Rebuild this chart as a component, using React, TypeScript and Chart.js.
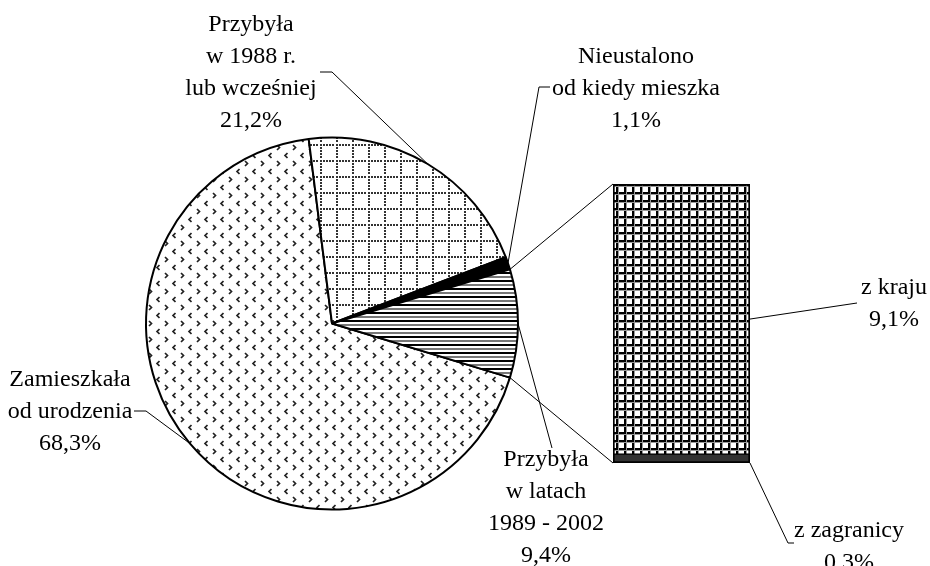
import React, { useEffect, useRef } from "react";
import { Chart, registerables } from "chart.js";

Chart.register(...registerables);

// ---------- data ----------
const pieCategories: string[][] = [
  ["Zamieszkała", "od urodzenia"],
  ["Przybyła", "w 1988 r.", "lub wcześniej"],
  ["Nieustalono", "od kiedy mieszka"],
  ["Przybyła", "w latach", "1989 - 2002"],
];
const pieValues = [68.3, 21.2, 1.1, 9.4];
const pieValueLabels = ["68,3%", "21,2%", "1,1%", "9,4%"];

const barCategories: string[][] = [["z kraju"], ["z zagranicy"]];
const barValues = [9.1, 0.3];
const barValueLabels = ["9,1%", "0.3%"];

const SPLIT_INDEX = 3; // pie slice that is broken down in the bar

// ---------- layout ----------
const W = 930;
const H = 566;
const FONT = '24px "Liberation Serif", "Times New Roman", serif';
const LINE_H = 32;
const PIE_RADIUS = 186;
const PIE_PADDING = { left: 146, right: 412, top: 137.5, bottom: 56.5 };
const BAR_PADDING = { left: 613, right: 180, top: 184, bottom: 103 };

const pieLabelLayout = [
  { x: 70, y: 386, leader: [[134, 411], [146, 411]] },
  { x: 251, y: 31, leader: [[320, 72], [332, 72]] },
  { x: 636, y: 63, leader: [[550, 87], [539, 87]] },
  { x: 546, y: 466, leader: [[552, 448]] },
];
const barLabelLayout = [
  { x: 894, y: 294, leader: [[857, 303]] },
  { x: 849, y: 537, leader: [[794, 543], [788, 543]] },
];

function makePattern(w: number, h: number, draw: (g: CanvasRenderingContext2D) => void) {
  const c = document.createElement("canvas");
  c.width = w;
  c.height = h;
  const g = c.getContext("2d")!;
  g.fillStyle = "#fff";
  g.fillRect(0, 0, w, h);
  draw(g);
  return g.createPattern(c, "repeat")!;
}

export default function App() {
  const pieRef = useRef<HTMLCanvasElement>(null);
  const barRef = useRef<HTMLCanvasElement>(null);

  useEffect(() => {
    const pieCanvas = pieRef.current!;
    const barCanvas = barRef.current!;

    const patChevrons = makePattern(16, 16, (g) => {
      g.strokeStyle = "#222";
      g.lineWidth = 1.7;
      g.beginPath();
      g.moveTo(5, 1);
      g.lineTo(7.5, 3.5);
      g.lineTo(5, 6);
      g.stroke();
      g.beginPath();
      g.moveTo(15.5, 9);
      g.lineTo(13, 11.5);
      g.lineTo(15.5, 14);
      g.stroke();
    });
    const patDotGrid = makePattern(16, 16, (g) => {
      g.fillStyle = "#333";
      for (let i = 0; i < 15; i += 3) {
        g.fillRect(i, 0, 2, 2);
        g.fillRect(0, i, 2, 2);
      }
    });
    const patHLines = makePattern(8, 8, (g) => {
      g.fillStyle = "#000";
      g.fillRect(0, 0, 8, 2);
      g.fillStyle = "#777";
      g.fillRect(0, 4, 8, 2);
    });
    const patBarGrid = makePattern(8, 8, (g) => {
      g.fillStyle = "#000";
      g.fillRect(0, 0, 8, 2);
      g.fillRect(0, 0, 2, 8);
      g.fillStyle = "#999";
      g.fillRect(0, 2, 8, 1);
      g.fillRect(2, 0, 1, 8);
    });

    const total = pieValues.reduce((a, b) => a + b, 0);
    const before = pieValues.slice(0, SPLIT_INDEX).reduce((a, b) => a + b, 0);
    const splitDeg = (pieValues[SPLIT_INDEX] / total) * 360;
    const startDeg = -splitDeg / 2 - (before / total) * 360;
    const rotation = (((startDeg + 90) % 360) + 360) % 360;

    const pie = new Chart(pieCanvas, {
      type: "pie",
      data: {
        labels: pieCategories.map((l) => l.join(" ")),
        datasets: [
          {
            data: pieValues,
            backgroundColor: [patChevrons, patDotGrid, "#000", patHLines] as any,
            borderColor: "#000",
            borderWidth: 2,
            hoverOffset: 0,
            radius: PIE_RADIUS,
            rotation,
          } as any,
        ],
      },
      options: {
        responsive: false,
        animation: false,
        events: [],
        layout: { padding: PIE_PADDING },
        plugins: { legend: { display: false }, tooltip: { enabled: false } },
      } as any,
    });

    const overlay = {
      id: "overlay",
      afterDraw(chart: any) {
        const ctx: CanvasRenderingContext2D = chart.ctx;
        ctx.save();
        ctx.strokeStyle = "#000";
        ctx.lineWidth = 1;
        ctx.fillStyle = "#000";
        ctx.font = FONT;
        ctx.textAlign = "center";
        ctx.textBaseline = "alphabetic";

        const arcs = pie.getDatasetMeta(0).data as any[];
        const kraj = chart.getDatasetMeta(1).data[0] as any;
        const zagr = chart.getDatasetMeta(0).data[0] as any;
        const barLeft = kraj.x - kraj.width / 2;
        const barRight = kraj.x + kraj.width / 2;

        // connectors pie -> bar
        const sa = arcs[SPLIT_INDEX];
        const p1 = [sa.x + Math.cos(sa.startAngle) * sa.outerRadius, sa.y + Math.sin(sa.startAngle) * sa.outerRadius];
        const p2 = [sa.x + Math.cos(sa.endAngle) * sa.outerRadius, sa.y + Math.sin(sa.endAngle) * sa.outerRadius];
        ctx.beginPath();
        ctx.moveTo(p1[0], p1[1]);
        ctx.lineTo(barLeft, kraj.y);
        ctx.moveTo(p2[0], p2[1]);
        ctx.lineTo(barLeft, zagr.base);
        ctx.stroke();

        // pie labels + leaders
        pieCategories.forEach((lines, i) => {
          const a = arcs[i];
          const mid = (a.startAngle + a.endAngle) / 2;
          const ax = a.x + Math.cos(mid) * a.outerRadius;
          const ay = a.y + Math.sin(mid) * a.outerRadius;
          const L = pieLabelLayout[i];
          ctx.beginPath();
          L.leader.forEach((p, k) => (k === 0 ? ctx.moveTo(p[0], p[1]) : ctx.lineTo(p[0], p[1])));
          ctx.lineTo(ax, ay);
          ctx.stroke();
          [...lines, pieValueLabels[i]].forEach((t, k) => ctx.fillText(t, L.x, L.y + k * LINE_H));
        });

        // bar labels + leaders
        const barAnchors = [
          [barRight, (kraj.y + kraj.base) / 2],
          [barRight, zagr.base],
        ];
        barCategories.forEach((lines, i) => {
          const L = barLabelLayout[i];
          ctx.beginPath();
          L.leader.forEach((p, k) => (k === 0 ? ctx.moveTo(p[0], p[1]) : ctx.lineTo(p[0], p[1])));
          ctx.lineTo(barAnchors[i][0], barAnchors[i][1]);
          ctx.stroke();
          [...lines, barValueLabels[i]].forEach((t, k) => ctx.fillText(t, L.x, L.y + k * LINE_H));
        });
        ctx.restore();
      },
    };

    const stackOrder = [1, 0]; // bottom segment first
    const bar = new Chart(barCanvas, {
      type: "bar",
      data: {
        labels: [""],
        datasets: stackOrder.map((i) => ({
          label: barCategories[i].join(" "),
          data: [barValues[i]],
          backgroundColor: i === 0 ? (patBarGrid as any) : "#333",
          borderColor: "#000",
          borderWidth: i === 0 ? { top: 2, left: 2, right: 2, bottom: 1 } : { top: 1, left: 2, right: 2, bottom: 2 },
          borderSkipped: false,
          barPercentage: 1,
          categoryPercentage: 1,
        })),
      },
      options: {
        responsive: false,
        animation: false,
        events: [],
        layout: { padding: BAR_PADDING },
        scales: {
          x: { stacked: true, display: false },
          y: { stacked: true, display: false, min: 0, max: pieValues[SPLIT_INDEX] },
        },
        plugins: { legend: { display: false }, tooltip: { enabled: false } },
      } as any,
      plugins: [overlay as any],
    });

    return () => {
      bar.destroy();
      pie.destroy();
    };
  }, []);

  return (
    <div style={{ position: "absolute", left: 0, top: 0, width: W, height: H, background: "#fff", overflow: "hidden" }}>
      <canvas ref={pieRef} width={W} height={H} style={{ position: "absolute", left: 0, top: 0 }} />
      <canvas ref={barRef} width={W} height={H} style={{ position: "absolute", left: 0, top: 0 }} />
    </div>
  );
}
